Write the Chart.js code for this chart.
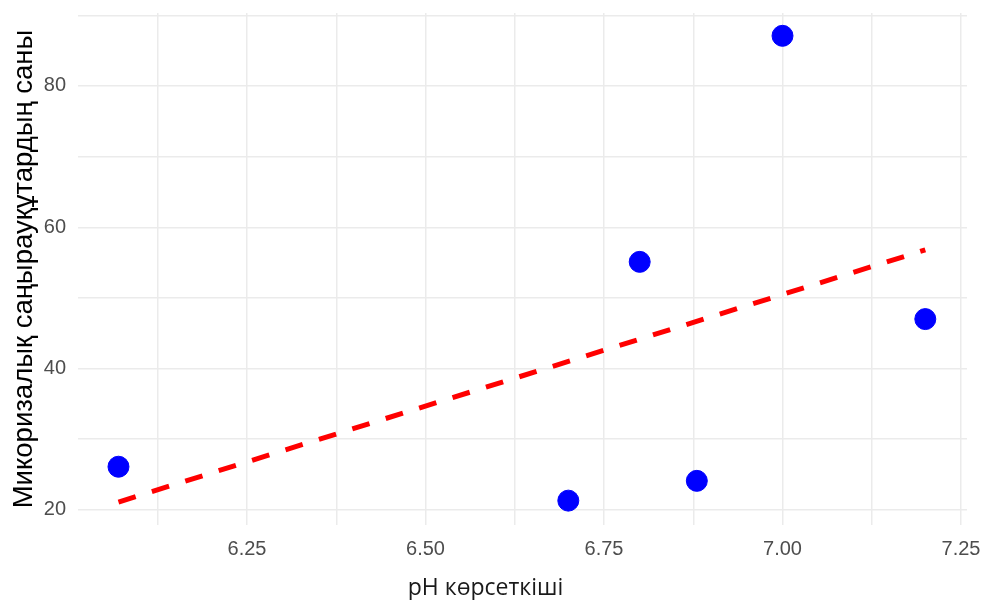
<!DOCTYPE html>
<html>
<head>
<meta charset="utf-8">
<script src="https://cdn.jsdelivr.net/npm/chart.js@4"></script>
<style>
html,body{margin:0;padding:0;background:#fff;}
#wrap{width:984px;height:600px;}
</style>
</head>
<body>
<div id="wrap"><canvas id="c" width="984" height="600"></canvas></div>
<script>
const phValues = [6.07, 6.70, 6.80, 6.88, 7.00, 7.20];
const countValues = [26.1, 21.3, 55.1, 24.1, 87.1, 47.0];
const trendX = [6.07, 7.20];
const trendY = [21.1, 56.8];
const xTicks = [6.125, 6.25, 6.375, 6.5, 6.625, 6.75, 6.875, 7.0, 7.125, 7.25];
const xLabels = ['6.25', '6.50', '6.75', '7.00', '7.25'];
const yTicks = [20, 30, 40, 50, 60, 70, 80, 90];
const yLabels = ['20', '40', '60', '80'];
const xTitle = 'pH көрсеткіші';
const yTitle = 'Микоризалық саңырауқұтардың саны';

const points = phValues.map((x, i) => ({x: x, y: countValues[i]}));
const trend = trendX.map((x, i) => ({x: x, y: trendY[i]}));
const tickFont = {family: "'Liberation Sans', Arial, sans-serif", size: 20};

const xTitlePlugin = {
  id: 'xTitlePlugin',
  afterDraw(chart) {
    const ctx = chart.ctx;
    const a = chart.chartArea;
    ctx.save();
    ctx.font = "23px 'Open Sans', sans-serif";
    ctx.fillStyle = '#1a1a1a';
    ctx.textAlign = 'center';
    ctx.textBaseline = 'alphabetic';
    ctx.fillText(xTitle, (a.left + a.right) / 2 - 37, a.bottom + 70);
    ctx.restore();
  }
};

function noPad(s) {
  s.paddingTop = 0; s.paddingBottom = 0; s.paddingLeft = 0; s.paddingRight = 0;
}

new Chart(document.getElementById('c'), {
  type: 'scatter',
  plugins: [xTitlePlugin],
  data: {
    datasets: [
      {
        type: 'line',
        data: trend,
        borderColor: '#ff0000',
        borderWidth: 5,
        borderDash: [18, 17],
        pointRadius: 0,
        fill: false,
        order: 2
      },
      {
        data: points,
        backgroundColor: '#0000ff',
        borderColor: '#0000ff',
        pointRadius: 10.5,
        pointHoverRadius: 10.5,
        order: 1
      }
    ]
  },
  options: {
    responsive: false,
    animation: false,
    devicePixelRatio: 1,
    layout: {autoPadding: false, padding: {top: 13, right: 17, left: 0, bottom: 0}},
    plugins: {legend: {display: false}, tooltip: {enabled: false}},
    scales: {
      x: {
        type: 'linear',
        min: 6.0133,
        max: 7.2584,
        border: {display: false},
        grid: {color: '#ebebeb', lineWidth: 1.5, drawTicks: false},
        afterBuildTicks: s => { s.ticks = xTicks.map(v => ({value: v})); },
        afterFit: s => { s.height = 75; noPad(s); },
        ticks: {
          padding: 12,
          color: '#4d4d4d',
          font: tickFont,
          maxRotation: 0,
          autoSkip: false,
          callback: v => { const t = v.toFixed(2); return xLabels.includes(t) ? t : ''; }
        },
        title: {display: false}
      },
      y: {
        type: 'linear',
        min: 17.85,
        max: 90.33,
        border: {display: false},
        grid: {color: '#ebebeb', lineWidth: 1.5, drawTicks: false},
        afterBuildTicks: s => { s.ticks = yTicks.map(v => ({value: v})); },
        afterFit: s => { s.width = 78; noPad(s); },
        ticks: {
          padding: 12,
          color: '#4d4d4d',
          font: tickFont,
          autoSkip: false,
          callback: v => { const t = String(v); return yLabels.includes(t) ? t : ''; }
        },
        title: {
          display: true,
          text: yTitle,
          color: '#000000',
          font: {family: "'Liberation Sans', Arial, sans-serif", size: 27.5},
          padding: {top: 8, bottom: 0}
        }
      }
    }
  }
});
</script>
</body>
</html>
